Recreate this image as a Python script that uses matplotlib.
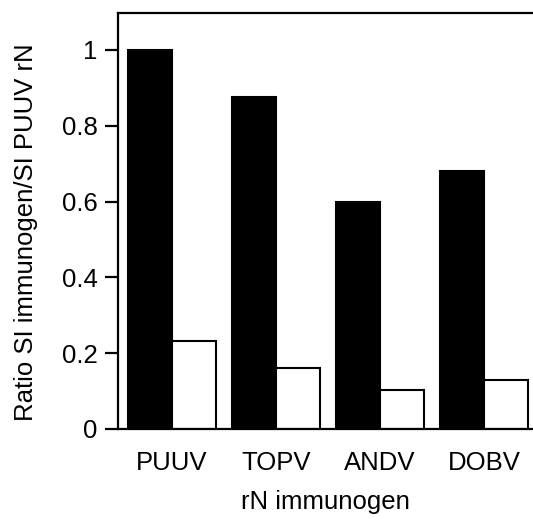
import numpy as np
import matplotlib.pyplot as plt

plt.rcParams['font.family'] = ['Liberation Sans', 'DejaVu Sans']

categories = ["PUUV", "TOPV", "ANDV", "DOBV"]
black_vals = [1.0, 0.875, 0.60, 0.68]
white_vals = [0.233, 0.162, 0.102, 0.130]

x = np.arange(len(categories))
w = 0.423

fig = plt.figure(figsize=(5.33, 5.21), dpi=100)
ax = fig.add_axes([0.2214, 0.1766, 0.7786, 0.799])

ax.bar(x - w / 2, black_vals, w, color="black", edgecolor="black", linewidth=1.5)
ax.bar(x + w / 2, white_vals, w, color="white", edgecolor="black", linewidth=1.5)

ax.set_xlim(-0.519, 3.471)
ax.set_ylim(0, 1.098)
ax.set_yticks([0, 0.2, 0.4, 0.6, 0.8, 1.0])
ax.set_yticklabels(["0", "0.2", "0.4", "0.6", "0.8", "1"])
ax.set_xticks(x)
ax.set_xticklabels(categories)

ax.spines["right"].set_visible(False)
for s in ["left", "top", "bottom"]:
    ax.spines[s].set_linewidth(1.6)

ax.tick_params(axis="y", direction="out", length=9.5, width=1.6, labelsize=18.5, pad=5)
ax.tick_params(axis="x", length=0, labelsize=18.5, pad=16)

ax.set_ylabel("Ratio SI immunogen/SI PUUV rN", fontsize=18.5)
ax.yaxis.set_label_coords(-0.193, 0.473)
ax.set_xlabel("rN immunogen", fontsize=18.5, labelpad=11)

plt.savefig("out.png", dpi=100)
